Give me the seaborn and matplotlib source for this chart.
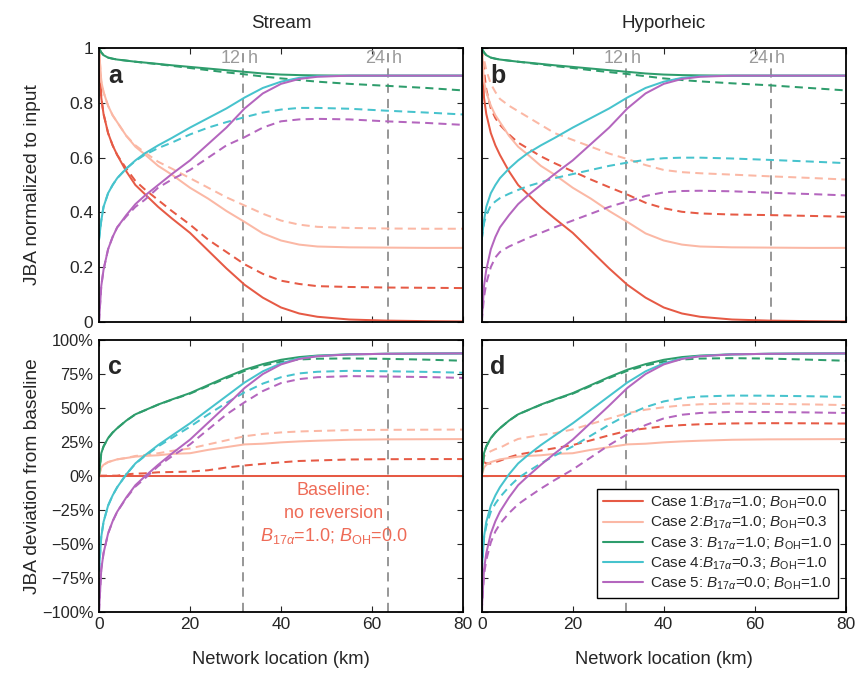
import numpy as np
import pandas as pd
import matplotlib
matplotlib.use("Agg")
import matplotlib.pyplot as plt
from matplotlib.lines import Line2D
import seaborn as sns

# ---------------- data ----------------
x_km = [0, 0.5, 1, 2, 3, 4, 6, 8, 10, 13, 16, 20, 24, 28, 32, 36, 40, 44, 48, 55, 63, 72, 80]

# solid lines (identical in Stream and Hyporheic panels)
case1_solid = [1.0, 0.82, 0.76, 0.69, 0.645, 0.61, 0.55, 0.50, 0.468, 0.42, 0.378, 0.325, 0.26, 0.195,
               0.135, 0.088, 0.052, 0.030, 0.018, 0.008, 0.004, 0.002, 0.001]
case2_solid = [1.0, 0.88, 0.84, 0.79, 0.755, 0.73, 0.68, 0.64, 0.613, 0.57, 0.538, 0.49, 0.45, 0.405,
               0.365, 0.323, 0.297, 0.282, 0.275, 0.272, 0.271, 0.27, 0.27]
case3_solid = [1.0, 0.985, 0.975, 0.966, 0.962, 0.959, 0.955, 0.951, 0.948, 0.943, 0.938, 0.932, 0.926,
               0.920, 0.914, 0.908, 0.904, 0.902, 0.901, 0.9, 0.9, 0.9, 0.9]
case4_solid = [0.30, 0.37, 0.42, 0.47, 0.50, 0.525, 0.56, 0.59, 0.615, 0.645, 0.672, 0.71, 0.745, 0.78,
               0.82, 0.855, 0.878, 0.892, 0.898, 0.9, 0.9, 0.9, 0.9]
case5_solid = [0.0, 0.13, 0.19, 0.265, 0.31, 0.345, 0.39, 0.43, 0.46, 0.50, 0.54, 0.59, 0.65, 0.71,
               0.78, 0.835, 0.870, 0.888, 0.896, 0.9, 0.9, 0.9, 0.9]

# dashed lines, Stream
stream_case1 = [1.0, 0.82, 0.76, 0.69, 0.645, 0.61, 0.56, 0.515, 0.485, 0.445, 0.405, 0.355, 0.30, 0.255,
                0.21, 0.175, 0.15, 0.138, 0.13, 0.127, 0.125, 0.124, 0.123]
stream_case2 = [1.0, 0.88, 0.84, 0.79, 0.755, 0.73, 0.68, 0.645, 0.62, 0.585, 0.56, 0.525, 0.49, 0.455,
                0.425, 0.395, 0.37, 0.355, 0.347, 0.343, 0.341, 0.34, 0.34]
stream_case3 = [1.0, 0.985, 0.975, 0.966, 0.962, 0.959, 0.955, 0.951, 0.947, 0.942, 0.936, 0.928, 0.92,
                0.912, 0.905, 0.897, 0.89, 0.884, 0.878, 0.87, 0.863, 0.855, 0.846]
stream_case4 = [0.30, 0.37, 0.42, 0.47, 0.50, 0.525, 0.56, 0.588, 0.61, 0.635, 0.655, 0.685, 0.71, 0.73,
                0.748, 0.765, 0.776, 0.782, 0.782, 0.779, 0.772, 0.765, 0.758]
stream_case5 = [0.0, 0.13, 0.19, 0.265, 0.31, 0.345, 0.385, 0.42, 0.445, 0.49, 0.52, 0.555, 0.60, 0.645,
                0.675, 0.71, 0.733, 0.74, 0.742, 0.74, 0.733, 0.727, 0.72]

# dashed lines, Hyporheic
hypo_case1 = [1.0, 0.92, 0.85, 0.78, 0.745, 0.72, 0.685, 0.655, 0.635, 0.605, 0.58, 0.55, 0.52, 0.492,
              0.465, 0.435, 0.415, 0.402, 0.396, 0.392, 0.39, 0.387, 0.384]
hypo_case2 = [1.0, 0.96, 0.92, 0.87, 0.84, 0.815, 0.79, 0.77, 0.75, 0.72, 0.69, 0.665, 0.64, 0.615,
              0.595, 0.573, 0.555, 0.547, 0.543, 0.538, 0.532, 0.526, 0.52]
hypo_case3 = [1.0, 0.985, 0.975, 0.966, 0.962, 0.959, 0.955, 0.951, 0.947, 0.941, 0.935, 0.928, 0.92,
              0.913, 0.906, 0.898, 0.89, 0.884, 0.879, 0.872, 0.865, 0.855, 0.846]
hypo_case4 = [0.30, 0.36, 0.39, 0.425, 0.44, 0.452, 0.468, 0.482, 0.495, 0.51, 0.525, 0.54, 0.555, 0.57,
              0.582, 0.592, 0.598, 0.6, 0.6, 0.597, 0.592, 0.586, 0.58]
hypo_case5 = [0.0, 0.09, 0.14, 0.20, 0.235, 0.255, 0.275, 0.29, 0.305, 0.325, 0.345, 0.37, 0.395, 0.42,
              0.44, 0.46, 0.473, 0.478, 0.479, 0.477, 0.472, 0.467, 0.462]

case_names = ["Case 1", "Case 2", "Case 3", "Case 4", "Case 5"]
case_labels = [r"Case 1:$B_{17\alpha}$=1.0; $B_{\rm OH}$=0.0",
               r"Case 2:$B_{17\alpha}$=1.0; $B_{\rm OH}$=0.3",
               r"Case 3: $B_{17\alpha}$=1.0; $B_{\rm OH}$=1.0",
               r"Case 4:$B_{17\alpha}$=0.3; $B_{\rm OH}$=1.0",
               r"Case 5: $B_{17\alpha}$=0.0; $B_{\rm OH}$=1.0"]
case_colors = ["#E65A45", "#FBB8A5", "#2E9D6C", "#47C3CD", "#B466BE"]

time_marks_km = [31.75, 63.5]
time_labels = ["12", "24"]

y_ticks_top = [0, 0.2, 0.4, 0.6, 0.8, 1.0]
y_ticklabels_top = ["0", "0.2", "0.4", "0.6", "0.8", "1"]
y_ticks_bot = [-1.0, -0.75, -0.5, -0.25, 0.0, 0.25, 0.5, 0.75, 1.0]
y_ticklabels_bot = ["\u2212100%", "\u221275%", "\u221250%", "\u221225%", "0%", "25%", "50%", "75%", "100%"]
x_ticks = [0, 20, 40, 60, 80]

# ---------------- long-form table ----------------
solids = [case1_solid, case2_solid, case3_solid, case4_solid, case5_solid]
dashed = {"Stream": [stream_case1, stream_case2, stream_case3, stream_case4, stream_case5],
          "Hyporheic": [hypo_case1, hypo_case2, hypo_case3, hypo_case4, hypo_case5]}
baseline = np.array(case1_solid)

rows = []
for col in ["Stream", "Hyporheic"]:
    for kind, series in [("solid", solids), ("dashed", dashed[col])]:
        for name, vals in zip(case_names, series):
            vals = np.array(vals)
            for xi, v, d in zip(x_km, vals, vals - baseline):
                rows.append(dict(col=col, kind=kind, case=name, x=xi, norm=v, dev=d))
df = pd.DataFrame(rows)

# ---------------- styling ----------------
sns.set_style("ticks")
plt.rcParams.update({
    "font.family": ["Liberation Sans", "DejaVu Sans"],
    "mathtext.fontset": "custom",
    "mathtext.it": "Liberation Sans:italic",
    "mathtext.rm": "Liberation Sans",
    "mathtext.sf": "Liberation Sans",
    "xtick.direction": "in", "ytick.direction": "in",
    "xtick.top": True, "ytick.right": True,
    "xtick.major.size": 4, "ytick.major.size": 4,
    "xtick.major.width": 0.8, "ytick.major.width": 0.8,
    "axes.linewidth": 1.3,
    "axes.edgecolor": "black",
})

fig = plt.figure(figsize=(8.57, 6.73), dpi=100)
W = 0.4248
pos = {("Stream", "norm"): [0.1155, 0.522, W, 0.4062],
       ("Hyporheic", "norm"): [0.5621, 0.522, W, 0.4062],
       ("Stream", "dev"): [0.1155, 0.0911, W, 0.4042],
       ("Hyporheic", "dev"): [0.5621, 0.0911, W, 0.4042]}
letters = {("Stream", "norm"): "a", ("Hyporheic", "norm"): "b",
           ("Stream", "dev"): "c", ("Hyporheic", "dev"): "d"}

palette = dict(zip(case_names, case_colors))
dash_map = {"solid": "", "dashed": (4, 2.6)}

axes = {}
for (col, row), p in pos.items():
    ax = fig.add_axes(p)
    axes[(col, row)] = ax
    sub = df[df.col == col]
    # vertical time markers
    marks = time_marks_km if not (col == "Hyporheic" and row == "dev") else time_marks_km[:1]
    for xm in marks:
        ax.axvline(xm, color="#7a7a7a", lw=1.1, ls=(0, (6, 4)), zorder=1)
    sns.lineplot(data=sub, x="x", y=row, hue="case", style="kind", palette=palette,
                 dashes=dash_map, estimator=None, sort=False, lw=1.45, ax=ax, legend=False,
                 hue_order=case_names, style_order=["dashed", "solid"], zorder=2)
    ax.set_xlim(0, 80)
    ax.set_xticks(x_ticks)
    if row == "norm":
        ax.set_ylim(0, 1)
        ax.set_yticks(y_ticks_top)
        ax.set_yticklabels(y_ticklabels_top if col == "Stream" else [])
        ax.set_xticklabels([])
        for xm, lab in zip(time_marks_km, time_labels):
            ax.text(xm - 0.6, 0.962, lab, ha="right", va="center", color="#9a9a9a", fontsize=13)
            ax.text(xm + 0.9, 0.962, "h", ha="left", va="center", color="#9a9a9a", fontsize=13)
        ax.text(0.5, 1.09, col, transform=ax.transAxes, ha="center", va="center", fontsize=13.5)
        ax.tick_params(labelsize=12.5, pad=4)
    else:
        ax.set_ylim(-1, 1)
        ax.set_yticks(y_ticks_bot)
        ax.set_yticklabels(y_ticklabels_bot if col == "Stream" else [])
        ax.set_xticklabels([str(t) for t in x_ticks])
        ax.set_xlabel("Network location (km)", fontsize=13.2)
        ax.xaxis.set_label_coords(0.5, -0.145)
        ax.tick_params(axis="x", labelsize=12.5, pad=4)
        ax.tick_params(axis="y", labelsize=11.8, pad=4)
    if col == "Stream":
        ax.set_ylabel("JBA normalized to input" if row == "norm" else "JBA deviation from baseline",
                      fontsize=13.8)
        ax.yaxis.set_label_coords(-0.158, 0.5)
    else:
        ax.set_ylabel("")
    if row == "norm":
        ax.set_xlabel("")
    ax.text(0.045, 0.90, letters[(col, row)], transform=ax.transAxes, fontsize=18,
            fontweight="bold", ha="center", va="center")
    for s in ax.spines.values():
        s.set_visible(True)

# baseline annotation (panel c)
axc = axes[("Stream", "dev")]
base_color = "#EE6B57"
axc.text(51.5, -0.112, "Baseline:", ha="center", va="center", color=base_color, fontsize=13)
axc.text(51.5, -0.275, "no reversion", ha="center", va="center", color=base_color, fontsize=13)
axc.text(51.5, -0.44, r"$B_{17\alpha}$=1.0; $B_{\rm OH}$=0.0", ha="center", va="center",
         color=base_color, fontsize=13)

# legend (panel d)
axd = axes[("Hyporheic", "dev")]
handles = [Line2D([], [], color=c, lw=1.5) for c in case_colors]
leg = axd.legend(handles, case_labels, loc="lower right", bbox_to_anchor=(0.978, 0.05),
                 borderaxespad=0, fontsize=11, handlelength=2.6, handletextpad=0.45,
                 labelspacing=0.25, fancybox=False, framealpha=1, edgecolor="black",
                 borderpad=0.4)
leg.get_frame().set_linewidth(1.0)

fig.savefig("out.png", dpi=100)
